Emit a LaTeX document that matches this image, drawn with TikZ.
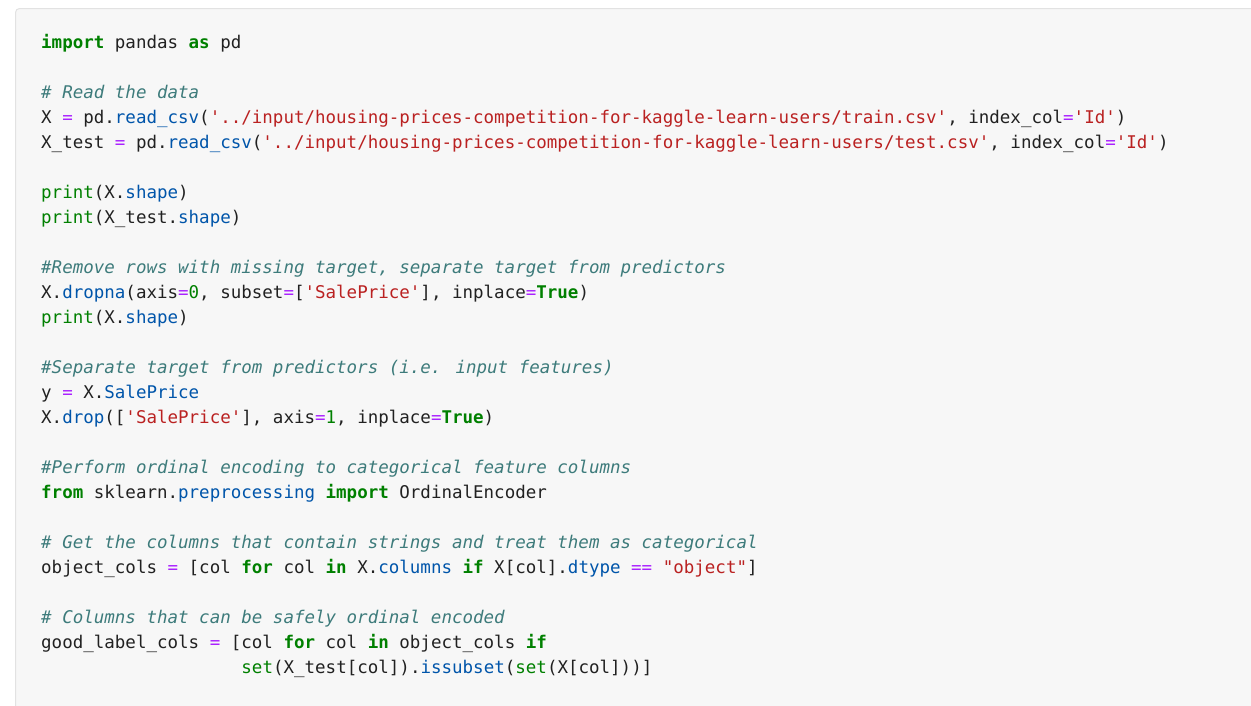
\documentclass[tikz,border=0pt]{standalone}
\usepackage{fontspec}
\newfontfamily\code{DejaVu Sans Mono}
\definecolor{bgc}{HTML}{F7F7F7}
\definecolor{bdc}{HTML}{E2E2E2}
\definecolor{txc}{HTML}{212121}
\definecolor{kwc}{HTML}{008000}
\definecolor{cmc}{HTML}{3D7B7B}
\definecolor{stc}{HTML}{BA2121}
\definecolor{opc}{HTML}{AA22FF}
\definecolor{atc}{HTML}{0055AA}
\newcommand{\kw}[1]{\textcolor{kwc}{\bfseries #1}}
\newcommand{\bi}[1]{\textcolor{kwc}{#1}}
\newcommand{\cm}[1]{\textcolor{cmc}{\itshape #1}}
\newcommand{\st}[1]{\textcolor{stc}{#1}}
\newcommand{\op}[1]{\textcolor{opc}{#1}}
\newcommand{\at}[1]{\textcolor{atc}{#1}}
\begin{document}
\begin{tikzpicture}[x=1pt,y=1pt,
  ln/.style={anchor=base west,inner sep=0pt,font=\code\fontsize{17.5}{20}\selectfont,text=txc}]
\useasboundingbox (0,0) rectangle (1251,-705);
\draw[bdc,fill=bgc,rounded corners=4pt,line width=1pt] (15.5,-8.5) rectangle (1270,-720);
\def\L#1#2{\node[ln] (l#1) at (41,-48-25*#1) {#2};}
\L{0}{\kw{import} pandas \kw{as} pd}
\L{2}{\cm{\# Read the data}}
\L{3}{X \op{=} pd.\at{read\_csv}(\st{'../input/housing-prices-competition-for-kaggle-learn-users/train.csv'}, index\_col\op{=}\st{'Id'})}
\L{4}{X\_test \op{=} pd.\at{read\_csv}(\st{'../input/housing-prices-competition-for-kaggle-learn-users/test.csv'}, index\_col\op{=}\st{'Id'})}
\L{6}{\bi{print}(X.\at{shape})}
\L{7}{\bi{print}(X\_test.\at{shape})}
\L{9}{\cm{\#Remove rows with missing target, separate target from predictors}}
\L{10}{X.\at{dropna}(axis\op{=}\bi{0}, subset\op{=}[\st{'SalePrice'}], inplace\op{=}\kw{True})}
\L{11}{\bi{print}(X.\at{shape})}
\L{13}{\cm{\#Separate target from predictors (i.e. input features)}}
\L{14}{y \op{=} X.\at{SalePrice}}
\L{15}{X.\at{drop}([\st{'SalePrice'}], axis\op{=}\bi{1}, inplace\op{=}\kw{True})}
\L{17}{\cm{\#Perform ordinal encoding to categorical feature columns}}
\L{18}{\kw{from} sklearn.\at{preprocessing} \kw{import} OrdinalEncoder}
\L{20}{\cm{\# Get the columns that contain strings and treat them as categorical}}
\L{21}{object\_cols \op{=} [col \kw{for} col \kw{in} X.\at{columns} \kw{if} X[col].\at{dtype} \op{==} \st{"object"}]}
\L{23}{\cm{\# Columns that can be safely ordinal encoded}}
\L{24}{good\_label\_cols \op{=} [col \kw{for} col \kw{in} object\_cols \kw{if}}
\node[ln] (l25) at (41+19*10.54,-48-25*25) {\bi{set}(X\_test[col]).\at{issubset}(\bi{set}(X[col]))]};
\end{tikzpicture}
\end{document}
